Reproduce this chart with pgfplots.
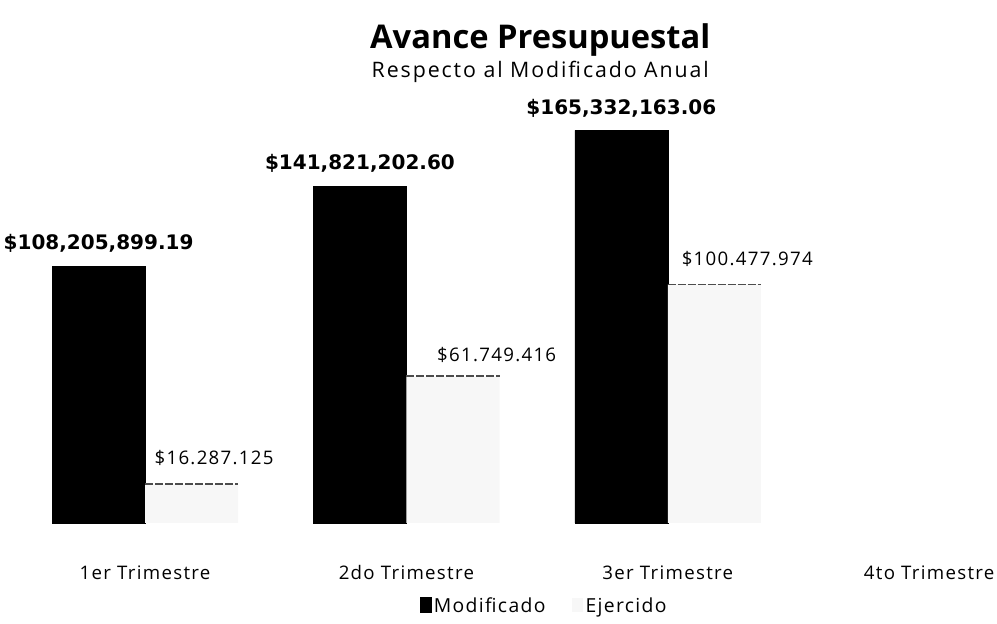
\documentclass[border=0pt]{standalone}
\usepackage{pgfplots}
\pgfplotsset{compat=1.18}
\usepackage{fontspec}
\setmainfont{Open Sans}
\newfontfamily\valfont{DejaVu Sans}
\newfontfamily\wide{Open Sans}[LetterSpace=7]
\newfontfamily\wider{Open Sans}[LetterSpace=9]
\begin{document}
\begin{tikzpicture}
\begin{axis}[
  at={(0,0)}, anchor=south west,
  scale only axis,
  width=735.1pt, height=302.8pt,
  xmin=-0.5, xmax=3.25,
  ymin=0, ymax=170,
  clip=false,
  axis y line=none,
  axis x line=bottom,
  x axis line style={draw=none},
  xtick={0,1,2,3},
  xticklabels={1er Trimestre,2do Trimestre,3er Trimestre,4to Trimestre},
  major tick length=0pt,
  xticklabel style={font=\wide\fontsize{14}{16}\selectfont, text height=10pt, text depth=3pt, yshift=-29pt},
  ybar,
  bar width=0.356,
  legend style={at={(0.541,-0.205)}, anchor=center, draw=none,
    legend columns=2, font=\wide\fontsize{14.5}{16}\selectfont,
    /tikz/every even column/.append style={column sep=18pt}},
  legend image code/.code={\fill[#1] (0pt,-5pt) rectangle (8pt,6pt);},
]
\addplot[fill=black, draw=black, bar shift=-0.178,
  point meta=explicit symbolic,
  nodes near coords,
  every node near coord/.append style={anchor=base, yshift=12.2pt,
    font=\valfont\bfseries\fontsize{15}{17}\selectfont, text=black}]
  coordinates {
    (0,108.2059)[\$108,205,899.19]
    (1,141.8212)[\$141,821,202.60]
    (2,165.3322)[\$165,332,163.06]
  };
\addlegendentry{Modificado}
\addplot[fill=gray!6, draw=none, bar shift=0.178,
  error bars/.cd, y dir=plus, y explicit, error mark=|,
  error mark options={mark size=34.9pt, line width=1.3pt, black!70,
    dash pattern=on 6pt off 1.5pt}]
  coordinates {
    (0,16.2871) +- (0,0)
    (1,61.7494) +- (0,0)
    (2,100.4780) +- (0,0)
  };
\addlegendentry{Ejercido}
\node[font=\wide\fontsize{14}{16}\selectfont] at (axis cs:0.264,27.4) {\$16.287.125};
\node[font=\wide\fontsize{14}{16}\selectfont] at (axis cs:1.345,70.7) {\$61.749.416};
\node[font=\wide\fontsize{14}{16}\selectfont] at (axis cs:2.304,111.2) {\$100.477.974};
\node[font=\bfseries\fontsize{24.5}{28}\selectfont] at (axis cs:1.512,203.5) {Avance Presupuestal};
\node[font=\wider\fontsize{16}{18}\selectfont] at (axis cs:1.512,190) {Respecto al Modificado Anual};
\end{axis}
\pgfresetboundingbox
\path[use as bounding box] (-10.8pt,-75.75pt) rectangle (736.95pt,392.25pt);
\end{tikzpicture}
\end{document}
